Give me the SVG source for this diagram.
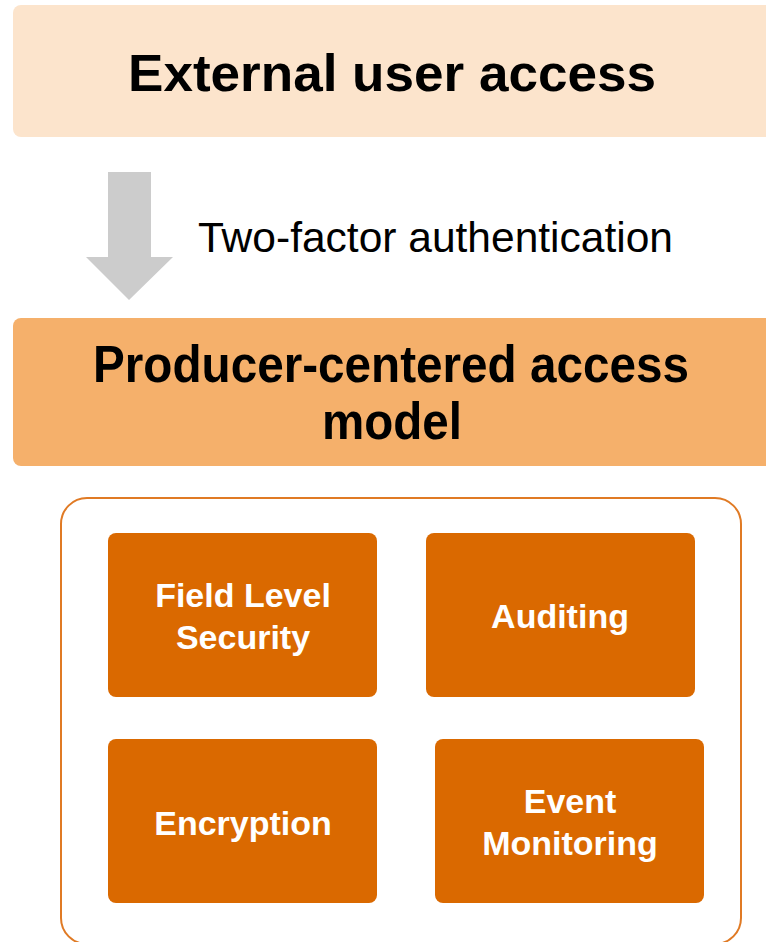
<svg xmlns="http://www.w3.org/2000/svg" width="766" height="942" viewBox="0 0 766 942">
<style>
.title{font-family:"Liberation Sans",Arial,sans-serif;font-weight:bold;fill:#000;text-anchor:middle}
.sub{font-family:"Liberation Sans",Arial,sans-serif;font-size:42px;fill:#000}
.item{fill:#DA6900}
.itxt{font-family:"Liberation Sans",Arial,sans-serif;font-weight:bold;font-size:34px;fill:#fff;text-anchor:middle}
</style>
<rect width="766" height="942" fill="#fff"/>
<g id="external">
<rect x="13" y="5" width="775" height="132" rx="8" fill="#FCE4CC"/>
<text class="title" x="392" y="91" font-size="52" textLength="528" lengthAdjust="spacingAndGlyphs">External user access</text>
</g>
<g id="connectors">
<polygon points="108,172 151,172 151,257 173,257 129,300 86,257 108,257" fill="#CCCCCC"/>
<text class="sub" x="198" y="252" textLength="475" lengthAdjust="spacingAndGlyphs">Two-factor authentication</text>
</g>
<g id="producer">
<rect x="13" y="318" width="775" height="148" rx="8" fill="#F5B06B"/>
<text class="title" x="391" y="382" font-size="52" textLength="596" lengthAdjust="spacingAndGlyphs">Producer-centered access</text>
<text class="title" x="392" y="439" font-size="52" textLength="140" lengthAdjust="spacingAndGlyphs">model</text>
</g>
<g id="container">
<rect x="61" y="498" width="680" height="446" rx="26" fill="none" stroke="#E07A24" stroke-width="2"/>
</g>
<g id="field-level-security">
<rect class="item" x="108" y="533" width="269" height="164" rx="8"/>
<text class="itxt" x="243" y="607">Field Level</text>
<text class="itxt" x="243" y="649">Security</text>
</g>
<g id="auditing">
<rect class="item" x="426" y="533" width="269" height="164" rx="8"/>
<text class="itxt" x="560" y="628">Auditing</text>
</g>
<g id="encryption">
<rect class="item" x="108" y="739" width="269" height="164" rx="8"/>
<text class="itxt" x="243" y="835">Encryption</text>
</g>
<g id="event-monitoring">
<rect class="item" x="435" y="739" width="269" height="164" rx="8"/>
<text class="itxt" x="570" y="813">Event</text>
<text class="itxt" x="570" y="855">Monitoring</text>
</g>
</svg>
